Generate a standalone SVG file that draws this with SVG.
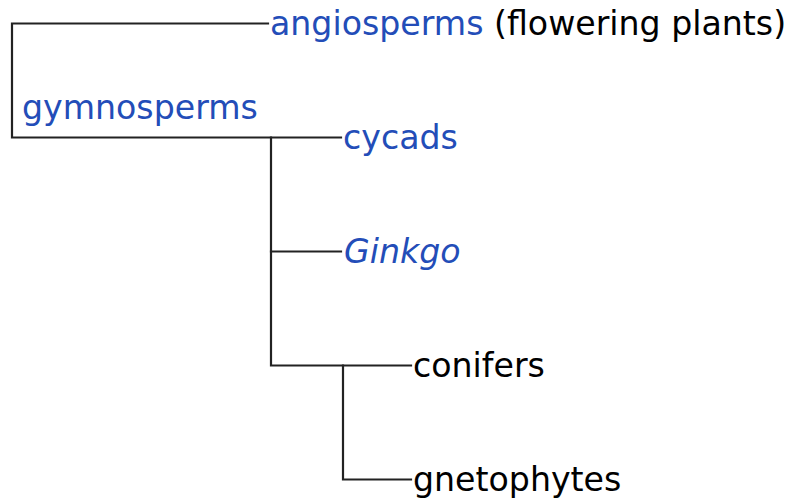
<svg xmlns="http://www.w3.org/2000/svg" width="790" height="500" viewBox="0 0 790 500">
  <style>
    .bg { fill: #ffffff; }
    .edge { fill: none; stroke: #222222; stroke-width: 2.2; stroke-linecap: square; }
    .lbl { font-family: "DejaVu Sans", Verdana, sans-serif; font-size: 33.2px; }
    .link { fill: #234db8; }
    .plain { fill: #000000; }
  </style>
  <rect class="bg" x="0" y="0" width="790" height="500"/>

  <!-- branches of the seed-plant tree -->
  <g id="connectors">
    <path class="edge" d="M268,23.5 H12 V137.5 H341"/>
    <path class="edge" d="M271,137.5 V365.5 H411"/>
    <path class="edge" d="M271,251.5 H341"/>
    <path class="edge" d="M343,365.5 V479.5 H411"/>
  </g>

  <g id="angiosperms">
    <text class="lbl" x="270" y="35"><tspan class="link">angiosperms</tspan><tspan class="plain"> (flowering plants)</tspan></text>
  </g>
  <g id="gymnosperms">
    <text class="lbl link" x="22" y="119">gymnosperms</text>
  </g>
  <g id="cycads">
    <text class="lbl link" x="343" y="149">cycads</text>
  </g>
  <g id="ginkgo">
    <text class="lbl link" x="344" y="263" font-style="italic">Ginkgo</text>
  </g>
  <g id="conifers">
    <text class="lbl plain" x="413" y="377">conifers</text>
  </g>
  <g id="gnetophytes">
    <text class="lbl plain" x="413" y="491">gnetophytes</text>
  </g>
</svg>
